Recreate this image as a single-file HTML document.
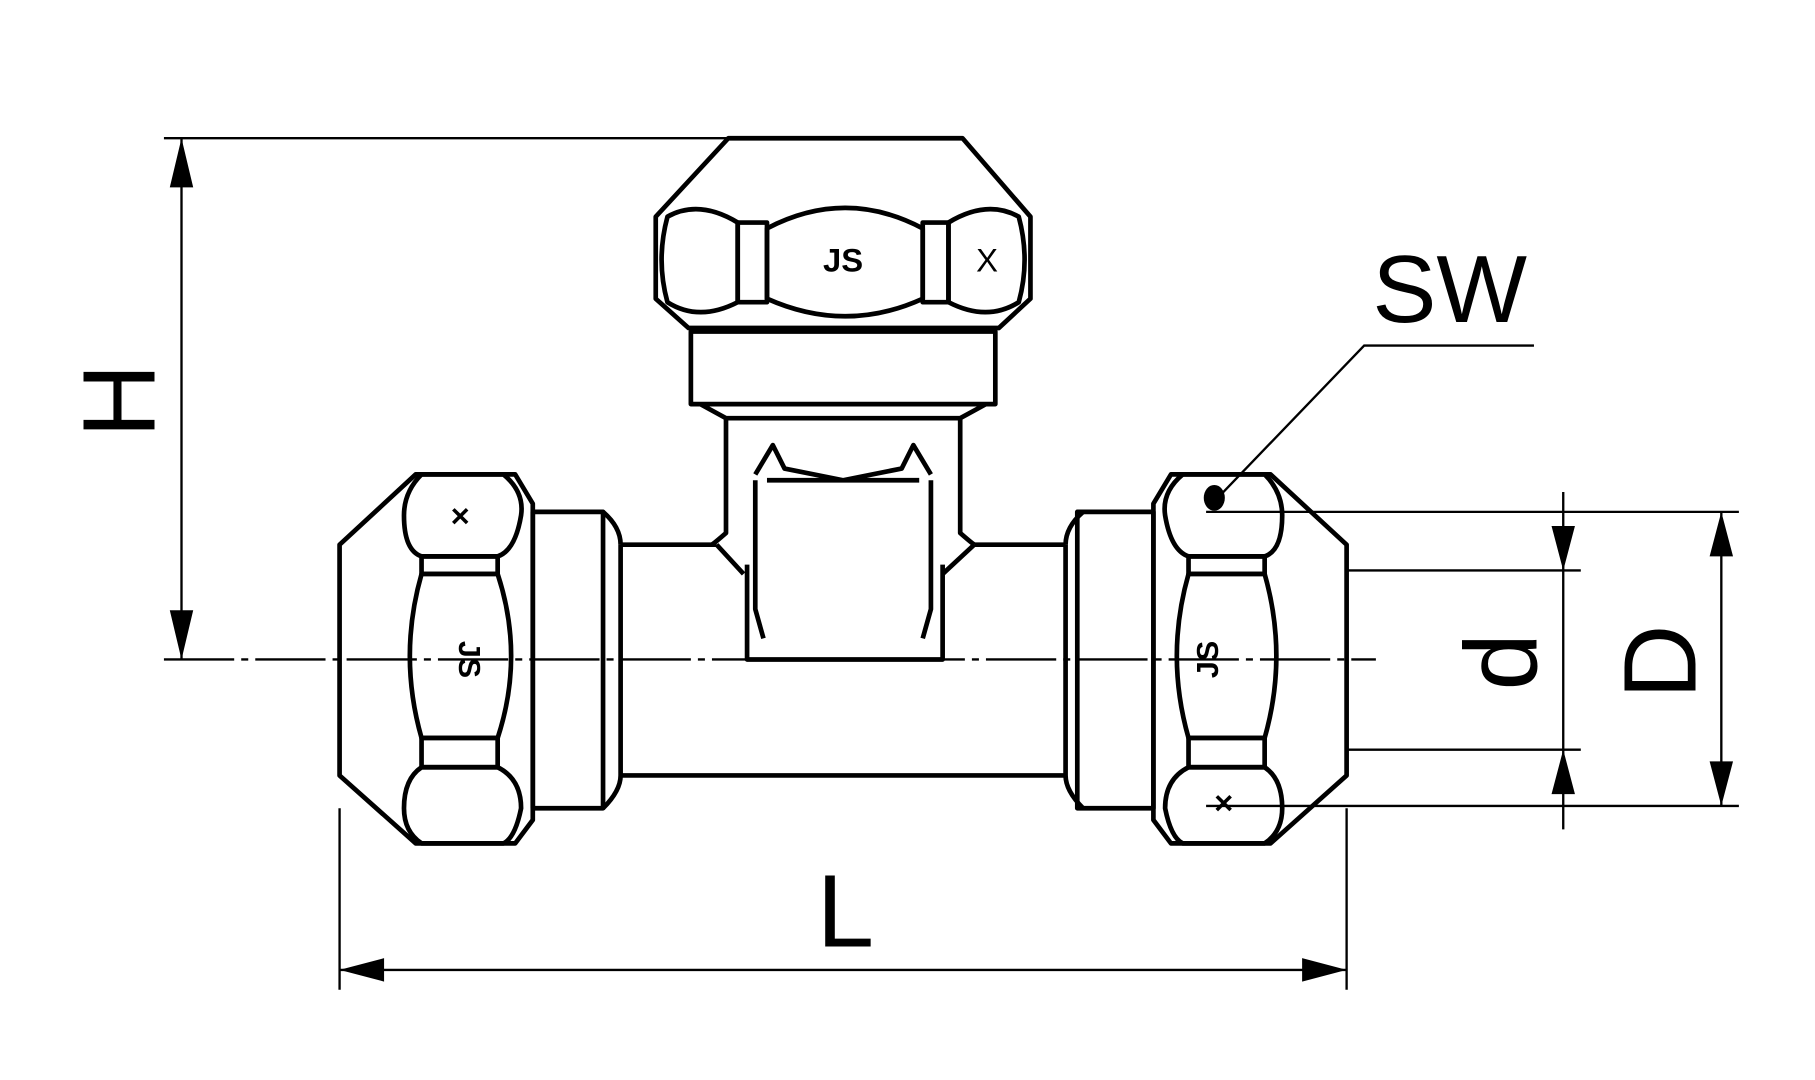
<!DOCTYPE html>
<html><head><meta charset="utf-8"><style>html,body{margin:0;padding:0;background:#fff;width:1815px;height:1080px;overflow:hidden}</style></head><body>
<svg width="1815" height="1080" viewBox="0 0 1550 922" preserveAspectRatio="none" xmlns="http://www.w3.org/2000/svg">
<g fill="none" stroke="#000" stroke-width="4" stroke-linejoin="round">
<!-- top nut -->
<path d="M622,118 L822,118 L880,185 L880,255 L853,280 L588,280 L560,255 L560,185 Z"/>
<path d="M630,190 Q597,170 570,185 Q560,222 570,258 Q597,275 630,258 Z"/>
<path d="M810,190 Q843,170 870,185 Q880,222 870,258 Q843,275 810,258 Z"/>
<rect x="630" y="190" width="25" height="68"/>
<rect x="788" y="190" width="22" height="68"/>
<path d="M655,195 Q722,160 788,195 L788,255 Q722,285 655,255 Z"/>
<!-- neck -->
<path d="M590,283 L850,283 L850,345 L590,345 Z"/>
<path d="M598,345 L620,357 L820,357 L842,345"/>
<path d="M620,357 L620,455 Q612,462 608,465"/>
<path d="M820,357 L820,455 Q828,462 832,465"/>
<path d="M612,465 L635,490 M832,465 L805,490"/>
<path d="M638,482 L638,563 L805,563 L805,482"/>
<path d="M645,405 L660,380 L670,400 L720,410 L770,400 L780,380 L795,405 M645,410 L645,520 L652,545 M795,410 L795,520 L788,545 M655,410 L785,410"/>
<!-- main pipe -->
<path d="M530,465 L612,465 M832,465 L910,465 M530,662 L910,662 M530,465 L530,662 M910,465 L910,662"/>
<path d="M515,437 Q530,450 530,465 M515,690 Q530,675 530,662 M925,437 Q910,450 910,465 M925,690 Q910,675 910,662"/>
<rect x="455" y="437" width="60" height="253"/>
<rect x="920" y="437" width="65" height="253"/>
<!-- left nut -->
<path d="M355,405 L440,405 L455,430 L455,700 L440,720 L355,720 L290,662 L290,465 Z"/>
<path d="M360,405 L430,405 Q448,420 445,440 Q440,470 425,475 L360,475 Q345,470 345,440 Q345,420 360,405 Z"/>
<path d="M360,655 L425,655 Q445,665 445,690 Q440,715 430,720 L360,720 Q345,710 345,690 Q345,665 360,655 Z"/>
<rect x="360" y="475" width="65" height="15"/>
<rect x="360" y="630" width="65" height="25"/>
<path d="M360,490 Q340,560 360,630 L425,630 Q448,560 425,490 Z"/>
<!-- right nut -->
<path d="M1085,405 L1000,405 L985,430 L985,700 L1000,720 L1085,720 L1150,662 L1150,465 Z"/>
<path d="M1080,405 L1010,405 Q992,420 995,440 Q1000,470 1015,475 L1080,475 Q1095,470 1095,440 Q1095,420 1080,405 Z"/>
<path d="M1080,655 L1015,655 Q995,665 995,690 Q1000,715 1010,720 L1080,720 Q1095,710 1095,690 Q1095,665 1080,655 Z"/>
<rect x="1015" y="475" width="65" height="15"/>
<rect x="1015" y="630" width="65" height="25"/>
<path d="M1015,490 Q995,560 1015,630 L1080,630 Q1100,560 1080,490 Z"/>
</g>
<g fill="none" stroke="#000" stroke-width="2">
<path d="M140,118 L820,118"/>
<path d="M155,118 L155,563"/>
<path d="M140,563 L1175,563" stroke-dasharray="60,6,6,6"/>
<path d="M290,690 L290,845 M1150,690 L1150,845 M290,828 L1150,828"/>
<path d="M1030,437 L1485,437 M1150,487 L1350,487 M1150,640 L1350,640 M1030,688 L1485,688"/>
<path d="M1335,420 L1335,708 M1470,437 L1470,688"/>
<path d="M1310,295 L1165,295 L1040,425"/>
</g>
<g fill="#000">
<path d="M155,118 L145,160 L165,160 Z M155,563 L145,521 L165,521 Z"/>
<path d="M290,828 L328,818 L328,838 Z M1150,828 L1112,818 L1112,838 Z"/>
<path d="M1335,487 L1325,449 L1345,449 Z M1335,640 L1325,678 L1345,678 Z"/>
<path d="M1470,437 L1460,475 L1480,475 Z M1470,688 L1460,650 L1480,650 Z"/>
<ellipse cx="1037" cy="425" rx="9" ry="11"/>
</g>
<g font-family="Liberation Sans, sans-serif" fill="#000">
<text x="1238" y="275" font-size="82" text-anchor="middle">SW</text>
<text x="722" y="808" font-size="88" text-anchor="middle">L</text>
<text transform="translate(132,342) rotate(-90)" font-size="88" text-anchor="middle">H</text>
<text transform="translate(1312,565) rotate(-90)" font-size="88" text-anchor="middle">d</text>
<text transform="translate(1448,565) rotate(-90)" font-size="88" text-anchor="middle">D</text>
<text x="720" y="232" font-size="28" text-anchor="middle" font-weight="bold">JS</text>
<text x="843" y="232" font-size="28" text-anchor="middle">X</text>
<text x="393" y="450" font-size="28" text-anchor="middle" font-weight="bold">×</text>
<text x="1045" y="695" font-size="28" text-anchor="middle" font-weight="bold">×</text>
<text transform="translate(392,563) rotate(90)" font-size="26" text-anchor="middle" font-weight="bold">JS</text>
<text transform="translate(1040,563) rotate(-90)" font-size="26" text-anchor="middle" font-weight="bold">JS</text>
</g>
</svg>
</body></html>
